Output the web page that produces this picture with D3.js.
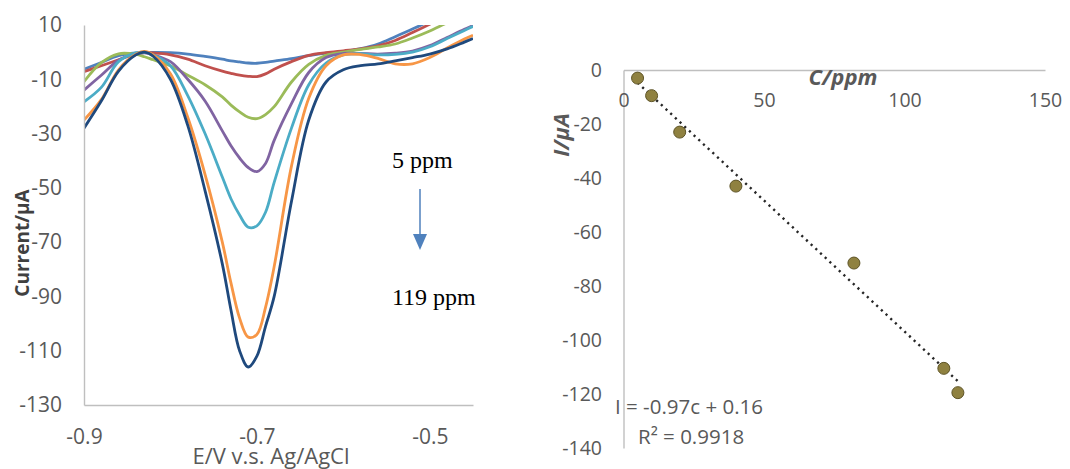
<!DOCTYPE html>
<html>
<head>
<meta charset="utf-8">
<script src="https://cdn.jsdelivr.net/npm/d3@7"></script>
<style>
    body { margin: 0; background: #fff; }
    text { font-family: "Open Sans", sans-serif; }
</style>
</head>
<body>
<div id="chart"></div>
<script>

// potential grid, V vs Ag/AgCl
var potential = [-0.90, -0.88, -0.86, -0.84, -0.83, -0.82, -0.80, -0.78, -0.76, -0.74, -0.73, -0.72, -0.71, -0.70,
    -0.69, -0.68, -0.66, -0.64, -0.62, -0.60, -0.58, -0.56, -0.54, -0.52, -0.50, -0.48, -0.46, -0.45];

// DPV currents (uA), lowest to highest concentration
var cur5 = [-6.3, -3.8, -1.3, -0.3, -0.2, -0.1, -0.2, -0.7, -1.6, -2.6, -3.2, -3.6, -4, -4.1,
    -3.8, -3.3, -2.4, -1.3, -0.4, 0.2, 1.3, 3, 5.7, 8.5, 11.5, 14.5, 17.5, 19];
var cur10 = [-7.2, -5, -2.8, -0.6, -0.2, -0.3, -1, -2.6, -5, -7, -7.8, -8.5, -8.9, -9,
    -8, -6.3, -3.5, -1.2, -0.2, 0.5, 1.2, 2.3, 4.3, 7.2, 10.3, 13.5, 16.5, 18];
var cur20 = [-10.9, -3.9, -0.6, -0.8, -1.7, -2.8, -5, -8.5, -12, -16.5, -19.5, -22, -24, -24.5,
    -23, -20.1, -11, -4.5, -1.2, 0, 1, 1.9, 3, 5.2, 7.8, 10.8, 13.5, 15];
var cur40 = [-14, -8.5, -3, -0.5, -0.3, -1, -3.5, -10, -18, -29, -34.5, -39, -42.5, -44,
    -41, -32.5, -19, -7.5, -2, -0.5, -0.5, -0.7, -0.4, 0.4, 2.4, 5.4, 8.4, 9.8];
var cur82 = [-18.3, -13, -3.5, -0.3, 0, -1, -5, -16, -30, -46, -54, -60, -64.5, -64,
    -59, -48, -28, -12, -4, -1, -0.6, -1, -0.8, 0, 2, 5, 8, 9.5];
var cur114 = [-25, -17.5, -6.5, -0.8, 0.3, -1, -8, -24, -45, -70, -85, -98, -105, -104,
    -94, -79, -42, -17, -5, -1, -0.9, -2.3, -4.3, -4.3, -2, 1.5, 4.8, 6.2];
var cur119 = [-28, -18, -7, -1, 0, -1.5, -10, -27, -51, -78, -95, -110, -116, -112,
    -101, -90, -55, -25, -11, -6.5, -5, -4.3, -3.2, -2, -0.7, 1.2, 3.7, 5];

// calibration: concentration (ppm) vs peak current (uA)
var conc = [5, 10, 20, 40, 82, 114, 119];
var peakCurrent = [-3, -9.5, -23, -43, -71.5, -110.5, -119.5];
var fitSlope = -0.97, fitIntercept = 0.16;

var leftXTicks = [-0.9, -0.7, -0.5];
var leftYTicks = [10, -10, -30, -50, -70, -90, -110, -130];
var rightXTicks = [0, 50, 100, 150];
var rightYTicks = [0, -20, -40, -60, -80, -100, -120, -140];

var curveColors = ['#4F81BD', '#C0504D', '#9BBB59', '#8064A2', '#4BACC6', '#F79646', '#1F497D'];
var axisColor = '#BFBFBF';
var labelColor = '#595959';

var svg = d3.select('#chart').append('svg')
    .attr('width', 1070)
    .attr('height', 469);

/* ---------- left chart: voltammograms ---------- */
var xL = d3.scaleLinear().domain([-0.9, -0.45]).range([84, 473]);
var yL = d3.scaleLinear().domain([-130, 10]).range([405, 25]);

svg.append('defs').append('clipPath')
    .attr('id', 'clipL')
    .append('rect')
    .attr('x', xL(-0.9)).attr('y', yL(10))
    .attr('width', xL(-0.45) - xL(-0.9))
    .attr('height', yL(-130) - yL(10));

var lineL = d3.line()
    .x(d => xL(d[0]))
    .y(d => yL(d[1]))
    .curve(d3.curveCatmullRom.alpha(0.5));

var curves = [cur5, cur10, cur20, cur40, cur82, cur114, cur119];

svg.append('g')
    .attr('clip-path', 'url(#clipL)')
    .selectAll('path')
    .data(curves).enter()
    .append('path')
    .attr('d', c => lineL(potential.map((v, i) => [v, c[i]])))
    .attr('fill', 'none')
    .attr('stroke', (d, i) => curveColors[i])
    .attr('stroke-width', 2.8);

var yAxisL = svg.append('g')
    .attr('transform', `translate(${xL(-0.9)},0)`)
    .call(d3.axisLeft(yL).tickValues(leftYTicks).tickSize(0).tickSizeOuter(0).tickPadding(22));

var xAxisL = svg.append('g')
    .attr('transform', `translate(0,${yL(-130)})`)
    .call(d3.axisBottom(xL).tickValues(leftXTicks).tickSize(0).tickSizeOuter(0).tickPadding(24.5));

/* ---------- right chart: calibration ---------- */
var xR = d3.scaleLinear().domain([0, 150]).range([623.5, 1045]);
var yR = d3.scaleLinear().domain([-140, 0]).range([448, 70]);

var yAxisR = svg.append('g')
    .attr('transform', `translate(${xR(0)},0)`)
    .call(d3.axisLeft(yR).tickValues(rightYTicks).tickSize(0).tickSizeOuter(0).tickPadding(21.5));

var xAxisR = svg.append('g')
    .attr('transform', `translate(0,${yR(0)})`)
    .call(d3.axisBottom(xR).tickValues(rightXTicks).tickSize(0).tickSizeOuter(0).tickPadding(23));

[yAxisL, xAxisL, yAxisR, xAxisR].forEach(g => {
    g.attr('font-family', null);
    g.select('.domain').attr('stroke', axisColor).attr('stroke-width', 1.4);
    g.selectAll('text').attr('fill', labelColor);
});
yAxisL.attr('font-size', 21);
xAxisL.attr('font-size', 21);
yAxisR.attr('font-size', 19.5);
xAxisR.attr('font-size', 19.5);
xAxisL.selectAll('text').text(d => d3.format('.1f')(d).replace('−', '-'));
[yAxisL, yAxisR, xAxisR].forEach(g => g.selectAll('text').text(d => String(d)));

// trendline
var trendC = [d3.min(conc), d3.max(conc)];
svg.append('path')
    .attr('d', d3.line().x(c => xR(c)).y(c => yR(fitSlope * c + fitIntercept))(trendC))
    .attr('fill', 'none')
    .attr('stroke', '#262626')
    .attr('stroke-width', 2.4)
    .attr('stroke-dasharray', '2.2,4.2');

svg.append('g')
    .selectAll('circle')
    .data(conc).enter()
    .append('circle')
    .attr('cx', d => xR(d))
    .attr('cy', (d, i) => yR(peakCurrent[i]))
    .attr('r', 6)
    .attr('fill', '#8F8140')
    .attr('stroke', '#5E5426')
    .attr('stroke-width', 1);

/* ---------- titles and annotations ---------- */
svg.append('text')
    .attr('transform', 'translate(29,243) rotate(-90)')
    .attr('text-anchor', 'middle')
    .attr('fill', '#404040')
    .style('font-size', '19px')
    .style('font-weight', 'bold')
    .text('Current/µA');

svg.append('text')
    .attr('x', 271).attr('y', 464)
    .attr('text-anchor', 'middle')
    .attr('fill', labelColor)
    .style('font-size', '22px')
    .text('E/V v.s. Ag/AgCl');

svg.append('text')
    .attr('x', 843).attr('y', 85)
    .attr('text-anchor', 'middle')
    .attr('fill', labelColor)
    .style('font-size', '22px')
    .style('font-weight', 'bold')
    .style('font-style', 'italic')
    .text('C/ppm');

svg.append('text')
    .attr('transform', 'translate(569,135) rotate(-90)')
    .attr('text-anchor', 'middle')
    .attr('fill', labelColor)
    .style('font-size', '22px')
    .style('font-weight', 'bold')
    .style('font-style', 'italic')
    .text('I/µA');

svg.append('text')
    .attr('x', 615).attr('y', 414)
    .attr('fill', labelColor)
    .style('font-size', '20.5px')
    .text('I = -0.97c + 0.16');

svg.append('text')
    .attr('x', 638).attr('y', 444)
    .attr('fill', labelColor)
    .style('font-size', '20.5px')
    .text('R² = 0.9918');

svg.append('text')
    .attr('x', 392).attr('y', 168)
    .attr('fill', '#000')
    .style('font-family', '"Liberation Serif", serif')
    .style('font-size', '24px')
    .text('5 ppm');

svg.append('text')
    .attr('x', 392).attr('y', 305)
    .attr('fill', '#000')
    .style('font-family', '"Liberation Serif", serif')
    .style('font-size', '24px')
    .text('119 ppm');

// arrow 5 ppm -> 119 ppm
svg.append('line')
    .attr('x1', 420).attr('y1', 189)
    .attr('x2', 420).attr('y2', 235)
    .attr('stroke', '#4F81BD')
    .attr('stroke-width', 1.5);
svg.append('path')
    .attr('d', 'M413,234 L427,234 L420,250 Z')
    .attr('fill', '#4F81BD');

</script>
</body>
</html>
